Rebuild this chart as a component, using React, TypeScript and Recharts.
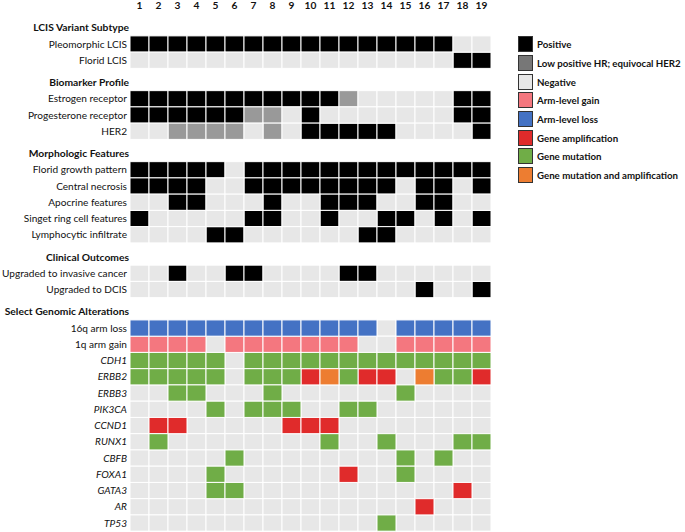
import React from 'react';
import { ScatterChart, Scatter, XAxis, YAxis } from 'recharts';

// sample columns
const sampleIds = [1, 2, 3, 4, 5, 6, 7, 8, 9, 10, 11, 12, 13, 14, 15, 16, 17, 18, 19];

// P positive, L low/equivocal, N negative, G arm gain, O arm loss,
// A amplification, M mutation, X mutation + amplification
const lcisVariantRows: [string, string][] = [
  ['Pleomorphic LCIS', 'PPPPPPPPPPPPPPPPPNN'],
  ['Florid LCIS', 'NNNNNNNNNNNNNNNNNPP'],
];

const biomarkerRows: [string, string][] = [
  ['Estrogen receptor', 'PPPPPPPPPPPLNNNNNPP'],
  ['Progesterone receptor', 'PPPPPPLLNPNNNNNNNPP'],
  ['HER2', 'NNLLLLNLNPPPPPNNNNP'],
];

const morphologyRows: [string, string][] = [
  ['Florid growth pattern', 'PPPPPNPPPPPPPPPPPPP'],
  ['Central necrosis', 'PPPPNNPPPPPPPPNPPNP'],
  ['Apocrine features', 'NNPPNNNPNNPPPNNPPNN'],
  ['Singet ring cell features', 'PNNNNNPPNNPNNPPNPNP'],
  ['Lymphocytic infiltrate', 'NNNNPPNNNNNNPPNNNNN'],
];

const outcomeRows: [string, string][] = [
  ['Upgraded to invasive cancer', 'NNPNNPPNNNNPPNNNNNN'],
  ['Upgraded to DCIS', 'NNNNNNNNNNNNNNNPNNP'],
];

const genomicRows: [string, string][] = [
  ['16q arm loss', 'OOOOOOOOOOOOONOOOOO'],
  ['1q arm gain', 'GGGGNGGGGGGGNNGGGGG'],
  ['CDH1', 'MMMMMNMMMMMMMMMMMMM'],
  ['ERBB2', 'MMMMMNMMMAXMAANXMMA'],
  ['ERBB3', 'NNMMNNNMNNNNNNMNNNN'],
  ['PIK3CA', 'NNNNMNMMMNNMMNNNNNN'],
  ['CCND1', 'NAANNNNNAAANNNNNNNN'],
  ['RUNX1', 'NMNNNNNNNNMNNMNNNMM'],
  ['CBFB', 'NNNNNMNNNNNNNNMNMNN'],
  ['FOXA1', 'NNNNMNNNNNNANNMNNNN'],
  ['GATA3', 'NNNNMMNNNNNNNNNNNAN'],
  ['AR', 'NNNNNNNNNNNNNNNANNN'],
  ['TP53', 'NNNNNNNNNNNNNMNNNNN'],
];
const plainGenomicLabels = ['16q arm loss', '1q arm gain'];

const sections = [
  { title: 'LCIS Variant Subtype', rows: lcisVariantRows },
  { title: 'Biomarker Profile', rows: biomarkerRows },
  { title: 'Morphologic Features', rows: morphologyRows },
  { title: 'Clinical Outcomes', rows: outcomeRows },
  { title: 'Select Genomic Alterations', rows: genomicRows },
];

const codeColors: Record<string, string> = {
  P: '#000000',
  L: '#999999',
  N: '#e7e7e7',
  G: '#f4777f',
  O: '#4472c4',
  A: '#e02b2b',
  M: '#70ad47',
  X: '#ed7d31',
};

const legendItems = [
  { label: 'Positive', color: '#000000' },
  { label: 'Low positive HR; equivocal HER2', color: '#777777' },
  { label: 'Negative', color: '#e7e7e7' },
  { label: 'Arm-level gain', color: '#f4777f' },
  { label: 'Arm-level loss', color: '#4472c4' },
  { label: 'Gene amplification', color: '#e02b2b' },
  { label: 'Gene mutation', color: '#70ad47' },
  { label: 'Gene mutation and amplification', color: '#ed7d31' },
];

const FONT = 'Lato, "Open Sans", sans-serif';
const ROW_PX = 16.25;
const COL_PX = 19;
const SECTION_GAP = 0.37;

type Meta = { k: number; label: string; kind: 'header' | 'row' | 'gene' };
type CellPt = { x: number; y: number; code: string };

const metas: Meta[] = [];
const cells: CellPt[] = [];
let k = -1;
sections.forEach((s, si) => {
  if (si > 0) k += SECTION_GAP;
  metas.push({ k, label: s.title, kind: 'header' });
  k += 1;
  s.rows.forEach(([label, codes]) => {
    const gene = s.rows === genomicRows && !plainGenomicLabels.includes(label);
    metas.push({ k, label, kind: gene ? 'gene' : 'row' });
    codes.split('').forEach((c, i) => cells.push({ x: sampleIds[i], y: k, code: c }));
    k += 1;
  });
});

const yDomain = [(16 - 44) / ROW_PX, (532 - 44) / ROW_PX];

const CellShape = (props: any) => (
  <rect
    x={props.cx - COL_PX / 2}
    y={props.cy - ROW_PX / 2}
    width={COL_PX}
    height={ROW_PX}
    fill={props.fill}
    stroke="#ffffff"
    strokeWidth={1}
  />
);

const RowTick = (props: any) => {
  const m = metas.find((r) => Math.abs(r.k - props.payload.value) < 1e-6);
  if (!m) return null;
  const header = m.kind === 'header';
  return (
    <text
      x={header ? 129 : 127}
      y={props.y}
      dy="0.35em"
      textAnchor="end"
      fontFamily={FONT}
      fontSize={header ? 10.3 : 10.1}
      fontWeight={header ? 700 : 400}
      fontStyle={m.kind === 'gene' ? 'italic' : 'normal'}
      fill="#111"
    >
      {m.label}
    </text>
  );
};

const TopTick = (props: any) => (
  <text x={props.x} y={5.5} dy="0.35em" textAnchor="middle" fontFamily={FONT} fontSize={10.2} fontWeight={700} fill="#111">
    {props.payload.value}
  </text>
);

const codes = Object.keys(codeColors);

export default function App() {
  return (
    <div style={{ position: 'absolute', left: 0, top: 0, width: 685, height: 532, background: '#fff' }}>
      <ScatterChart width={685} height={532} margin={{ top: 0, right: 194, bottom: 0, left: 0 }}>
        <XAxis
          type="number"
          dataKey="x"
          orientation="top"
          domain={[0.5, 19.5]}
          allowDataOverflow
          ticks={sampleIds}
          interval={0}
          height={16}
          axisLine={false}
          tickLine={false}
          tick={<TopTick />}
        />
        <YAxis
          type="number"
          dataKey="y"
          domain={yDomain}
          allowDataOverflow
          reversed
          ticks={metas.map((m) => m.k)}
          interval={0}
          width={130}
          axisLine={false}
          tickLine={false}
          tick={<RowTick />}
        />
        {codes.map((c) => (
          <Scatter
            key={c}
            data={cells.filter((p) => p.code === c)}
            fill={codeColors[c]}
            shape={CellShape}
            isAnimationActive={false}
          />
        ))}
      </ScatterChart>
      <div style={{ position: 'absolute', left: 518, top: 35, fontFamily: FONT }}>
        {legendItems.map((it) => (
          <div key={it.label} style={{ display: 'flex', alignItems: 'center', height: 18.7 }}>
            <div
              style={{
                width: 13,
                height: 14,
                background: it.color,
                border: '1px solid #333',
                marginRight: 4,
              }}
            />
            <span style={{ fontSize: 9.7, fontWeight: 700, color: '#111', whiteSpace: 'nowrap' }}>{it.label}</span>
          </div>
        ))}
      </div>
    </div>
  );
}
